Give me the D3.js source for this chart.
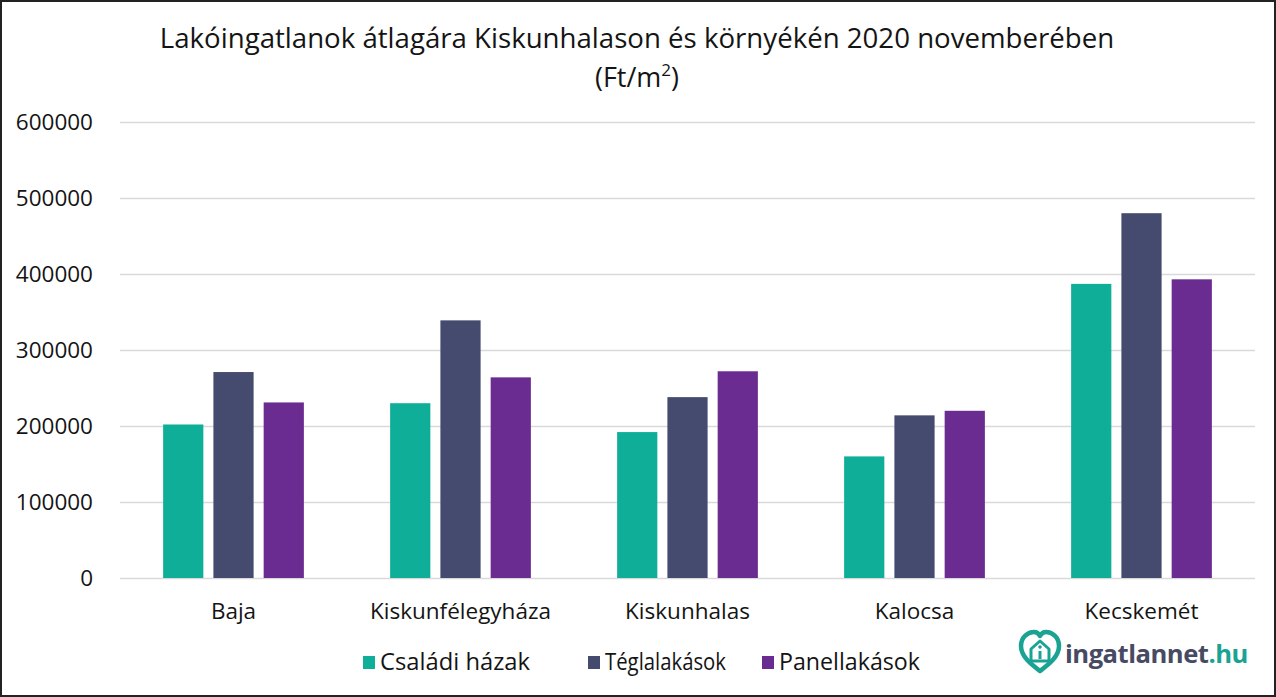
<!DOCTYPE html>
<html>
<head>
<meta charset="utf-8">
<script src="https://cdn.jsdelivr.net/npm/d3@7"></script>
<style>
  html, body { margin: 0; padding: 0; background: #fff; }
  svg { display: block; font-family: "Open Sans", sans-serif; }
</style>
</head>
<body>
<svg id="chart"></svg>
<script>
(function (d3) {
  "use strict";

  /***** Données *****/
  var cities = ["Baja", "Kiskunfélegyháza", "Kiskunhalas", "Kalocsa", "Kecskemét"];
  var seriesNames = ["Családi házak", "Téglalakások", "Panellakások"];
  var csaladiHazak = [202000, 230000, 192000, 160000, 387000];
  var teglalakasok = [271000, 339000, 238000, 214000, 480000];
  var panellakasok = [231000, 264000, 272000, 220000, 393000];
  var yTicks = [0, 100000, 200000, 300000, 400000, 500000, 600000];
  var colors = ["#0fae99", "#454b6e", "#6a2c91"];

  var seriesValues = [csaladiHazak, teglalakasok, panellakasok];

  /***** Configuration *****/
  var width = 1276;
  var height = 697;
  var margin = { top: 122, right: 21, bottom: 119, left: 120 };
  var plotWidth = width - margin.left - margin.right;
  var plotHeight = height - margin.top - margin.bottom;
  var textColor = "#141414";

  var svg = d3.select("#chart")
    .attr("width", width)
    .attr("height", height);

  // Ajuste la taille de police pour que le texte occupe la largeur voulue.
  function fitWidth(sel, size, target) {
    var w = sel.node().getComputedTextLength();
    sel.style("font-size", (size * target / w) + "px");
  }

  /***** Échelles *****/
  var x0 = d3.scaleBand().domain(cities).range([0, plotWidth]).padding(0);
  var x1 = d3.scaleBand().domain(seriesNames)
    .range([x0.bandwidth() * 0.19, x0.bandwidth() * 0.81])
    .paddingInner(0.2).paddingOuter(0);
  var y = d3.scaleLinear().domain([0, 600000]).range([plotHeight, 0]);
  var color = d3.scaleOrdinal().domain(seriesNames).range(colors);

  /***** Titre *****/
  var title = svg.append("text")
    .attr("x", 637)
    .attr("y", 48)
    .attr("text-anchor", "middle")
    .attr("fill", textColor)
    .style("font-size", "25px")
    .text("Lakóingatlanok átlagára Kiskunhalason és környékén 2020 novemberében");
  fitWidth(title, 25, 955);

  var sub = svg.append("text")
    .attr("x", 637)
    .attr("y", 87)
    .attr("text-anchor", "middle")
    .attr("fill", textColor)
    .style("font-size", "27px");
  sub.append("tspan").text("(Ft/m");
  sub.append("tspan").attr("dy", -11).style("font-size", "17px").text("2");
  sub.append("tspan").attr("dy", 11).text(")");

  var g = svg.append("g")
    .attr("transform", "translate(" + margin.left + "," + margin.top + ")");

  /***** Axes *****/
  var yAxis = d3.axisLeft(y)
    .tickValues(yTicks)
    .tickSize(-plotWidth)
    .tickPadding(27)
    .tickFormat(d3.format("d"));

  var yAxisG = g.append("g").call(yAxis);
  yAxisG.select(".domain").remove();
  yAxisG.selectAll(".tick line").attr("stroke", "#d9d9d9").attr("stroke-width", 1.3);
  yAxisG.selectAll(".tick text")
    .attr("fill", textColor)
    .style("font-size", "22.5px")
    .style("font-family", "'Open Sans', sans-serif");

  var xAxis = d3.axisBottom(x0).tickSize(0).tickPadding(25);
  var xAxisG = g.append("g")
    .attr("transform", "translate(0," + plotHeight + ")")
    .call(xAxis);
  xAxisG.select(".domain").remove();
  xAxisG.selectAll(".tick text")
    .attr("fill", textColor)
    .style("font-size", "22.5px")
    .style("font-family", "'Open Sans', sans-serif");

  /***** Barres *****/
  var groups = g.selectAll(".city")
    .data(cities)
    .enter()
    .append("g")
    .attr("class", "city")
    .attr("transform", function (d) { return "translate(" + x0(d) + ",0)"; });

  groups.selectAll("rect")
    .data(function (d, i) {
      return seriesNames.map(function (s, j) {
        return { series: s, value: seriesValues[j][i] };
      });
    })
    .enter()
    .append("rect")
    .attr("x", function (d) { return x1(d.series); })
    .attr("width", x1.bandwidth())
    .attr("y", function (d) { return y(d.value); })
    .attr("height", function (d) { return plotHeight - y(d.value); })
    .attr("fill", function (d) { return color(d.series); });

  /***** Légende *****/
  var legendX = [363, 588, 762];
  var legendTextWidth = [150, 121, 141];
  var legend = svg.selectAll(".legend")
    .data(seriesNames)
    .enter()
    .append("g")
    .attr("class", "legend")
    .attr("transform", function (d, i) { return "translate(" + legendX[i] + ",656)"; });

  legend.append("rect")
    .attr("width", 12)
    .attr("height", 13)
    .attr("fill", function (d) { return color(d); });

  legend.append("text")
    .attr("x", 17)
    .attr("y", 14)
    .attr("fill", textColor)
    .attr("textLength", function (d, i) { return legendTextWidth[i]; })
    .attr("lengthAdjust", "spacingAndGlyphs")
    .style("font-size", "23.5px")
    .text(function (d) { return d; });

  /***** Logo *****/
  var logo = svg.append("g").attr("transform", "translate(1040,652)");
  logo.append("path")
    .attr("d", "M0,19 C-8,13 -19,5 -19,-6 C-19,-15 -12,-20 -6,-20 C-3,-20 -1,-18 0,-16 C1,-18 3,-20 6,-20 C12,-20 19,-15 19,-6 C19,5 8,13 0,19 Z")
    .attr("fill", "none")
    .attr("stroke", "#1aa393")
    .attr("stroke-width", 4.5)
    .attr("stroke-linejoin", "round");
  logo.append("path")
    .attr("d", "M-9,9 L-9,-3 L0,-11 L9,-3 L9,9 Z")
    .attr("fill", "none")
    .attr("stroke", "#1aa393")
    .attr("stroke-width", 3)
    .attr("stroke-linejoin", "round");
  logo.append("rect").attr("x", -1.5).attr("y", -1).attr("width", 3).attr("height", 8).attr("fill", "#1aa393");
  logo.append("circle").attr("cx", 0).attr("cy", -5).attr("r", 1.8).attr("fill", "#1aa393");

  var logoText = svg.append("text")
    .attr("x", 1065)
    .attr("y", 663)
    .style("font-size", "26px")
    .style("font-weight", "bold")
    .style("letter-spacing", "-0.5px");
  logoText.append("tspan").attr("fill", "#474a63").text("ingatlannet");
  logoText.append("tspan").attr("fill", "#1aa393").text(".hu");
  fitWidth(logoText, 26, 183);

  /***** Cadre *****/
  svg.append("rect")
    .attr("x", 1)
    .attr("y", 1)
    .attr("width", width - 2)
    .attr("height", height - 2)
    .attr("fill", "none")
    .attr("stroke", "#222")
    .attr("stroke-width", 2);

})(d3);
</script>
</body>
</html>
